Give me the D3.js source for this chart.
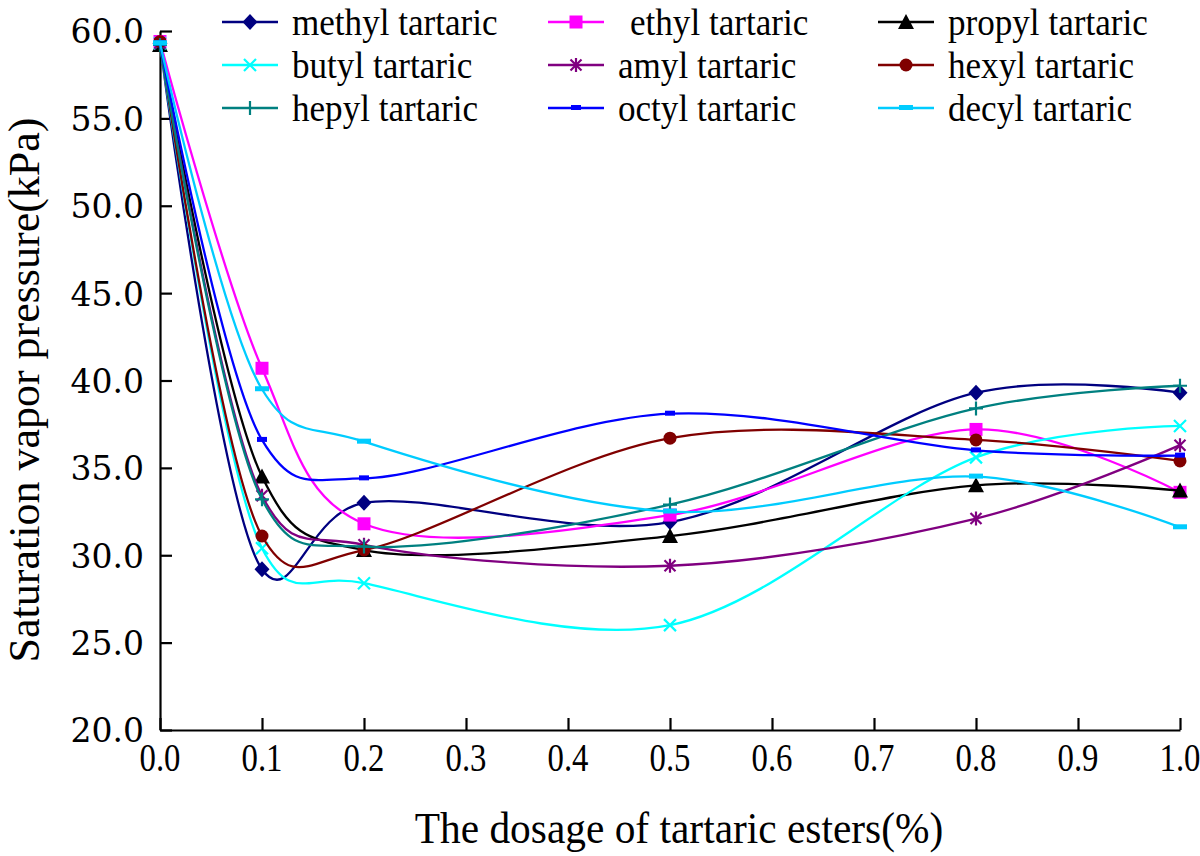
<!DOCTYPE html>
<html>
<head>
<meta charset="utf-8">
<script src="https://cdn.jsdelivr.net/npm/d3@7"></script>
<style>
  html, body { margin: 0; padding: 0; background: #fff; }
  svg { display: block; }
</style>
</head>
<body>
<svg id="chart" width="1200" height="856"></svg>
<script>
// ---- data ----
const dosage = [0, 0.1, 0.2, 0.5, 0.8, 1.0];
const seriesNames = ["methyl tartaric", " ethyl tartaric", "propyl tartaric",
                     "butyl tartaric", "amyl tartaric", "hexyl tartaric",
                     "hepyl tartaric", "octyl tartaric", "decyl tartaric"];
const methyl = [59.3, 29.2, 33.0, 31.9, 39.3, 39.3];
const ethyl  = [59.4, 40.7, 31.8, 32.3, 37.2, 33.6];
const propyl = [59.2, 34.5, 30.3, 31.1, 34.0, 33.7];
const butyl  = [59.3, 30.4, 28.4, 26.0, 35.6, 37.4];
const amyl   = [59.3, 33.4, 30.6, 29.4, 32.1, 36.3];
const hexyl  = [59.4, 31.1, 30.3, 36.7, 36.6, 35.4];
const hepyl  = [59.2, 33.2, 30.5, 32.9, 38.4, 39.7];
const octyl  = [59.3, 36.6, 34.4, 38.1, 36.0, 35.7];
const decyl  = [59.3, 39.5, 36.5, 32.5, 34.5, 31.6];
const seriesValues = [methyl, ethyl, propyl, butyl, amyl, hexyl, hepyl, octyl, decyl];
const xTicks = [0, 0.1, 0.2, 0.3, 0.4, 0.5, 0.6, 0.7, 0.8, 0.9, 1.0];
const yTicks = [20, 25, 30, 35, 40, 45, 50, 55, 60];
const xTitle = "The dosage of tartaric esters(%)";
const yTitle = "Saturation vapor pressure(kPa)";

// ---- styles ----
const colors  = ["#000080", "#FF00FF", "#000000", "#00FFFF", "#800080", "#800000", "#008080", "#0000FF", "#00CCFF"];
const markers = ["diamond", "square", "triangle", "x", "star", "circle", "plus", "dashS", "dashL"];
const SERIF = "'Liberation Serif', 'Times New Roman', Times, serif";

const svg = d3.select("#chart");
const x = d3.scaleLinear().domain([0, 1]).range([160, 1180]);
const y = d3.scaleLinear().domain([20, 60]).range([730, 31]);

// axes
const gx = svg.append("g").attr("transform", "translate(0,730)")
  .call(d3.axisBottom(x).tickValues(xTicks).tickSizeInner(-12).tickSizeOuter(0).tickFormat(d3.format(".1f")));
const gy = svg.append("g").attr("transform", "translate(160,0)")
  .call(d3.axisLeft(y).tickValues(yTicks).tickSizeInner(-12).tickSizeOuter(0).tickFormat(d3.format(".1f")));
[gx, gy].forEach(g => {
  g.select(".domain").attr("stroke", "#000").attr("stroke-width", 2.2);
  g.selectAll(".tick line").attr("stroke", "#000").attr("stroke-width", 2.2);
});
gx.selectAll(".tick text").remove();
gy.selectAll(".tick text")
  .attr("x", -16).attr("dy", "0.36em")
  .attr("font-family", "'DejaVu Serif', serif").attr("font-size", 33).attr("fill", "#000");

// x tick labels (condensed serif)
xTicks.forEach(t => {
  svg.append("g").attr("transform", `translate(${x(t)},771) scale(0.82,1)`)
    .append("text").attr("text-anchor", "middle")
    .attr("font-family", SERIF).attr("font-size", 40).attr("fill", "#000")
    .text(d3.format(".1f")(t));
});

// titles
svg.append("g").attr("transform", "translate(679,843) scale(0.92,1)")
  .append("text").attr("text-anchor", "middle")
  .attr("font-family", SERIF).attr("font-size", 45).attr("fill", "#000").text(xTitle);
svg.append("g").attr("transform", "translate(39,390) rotate(-90)")
  .append("text").attr("text-anchor", "middle")
  .attr("font-family", SERIF).attr("font-size", 44).attr("fill", "#000").text(yTitle);

// marker drawing
function drawMarker(g, type, cx, cy, color) {
  switch (type) {
    case "diamond":
      g.append("path").attr("d", `M${cx},${cy-8}L${cx+7.5},${cy}L${cx},${cy+8}L${cx-7.5},${cy}Z`).attr("fill", color); break;
    case "square":
      g.append("rect").attr("x", cx-6.5).attr("y", cy-6.5).attr("width", 13).attr("height", 13).attr("fill", color); break;
    case "triangle":
      g.append("path").attr("d", `M${cx},${cy-8}L${cx+8},${cy+7}L${cx-8},${cy+7}Z`).attr("fill", color); break;
    case "circle":
      g.append("circle").attr("cx", cx).attr("cy", cy).attr("r", 6.5).attr("fill", color); break;
    case "x":
      g.append("path").attr("d", `M${cx-6},${cy-6}L${cx+6},${cy+6}M${cx-6},${cy+6}L${cx+6},${cy-6}`)
        .attr("stroke", color).attr("stroke-width", 2.2); break;
    case "star":
      g.append("path").attr("d", `M${cx-5.5},${cy-5.5}L${cx+5.5},${cy+5.5}M${cx-5.5},${cy+5.5}L${cx+5.5},${cy-5.5}M${cx},${cy-7}L${cx},${cy+7}`)
        .attr("stroke", color).attr("stroke-width", 2.2); break;
    case "plus":
      g.append("path").attr("d", `M${cx-7},${cy}L${cx+7},${cy}M${cx},${cy-7}L${cx},${cy+7}`)
        .attr("stroke", color).attr("stroke-width", 2.2); break;
    case "dashS":
      g.append("rect").attr("x", cx-5).attr("y", cy-3).attr("width", 10).attr("height", 5).attr("fill", color); break;
    case "dashL":
      g.append("rect").attr("x", cx-7).attr("y", cy-3).attr("width", 14).attr("height", 5).attr("fill", color); break;
  }
}

// series
const line = d3.line().x(d => x(d[0])).y(d => y(d[1])).curve(d3.curveCatmullRom.alpha(0.2));
seriesValues.forEach((vals, i) => {
  const pts = dosage.map((d, j) => [d, vals[j]]);
  const g = svg.append("g");
  g.append("path").attr("d", line(pts)).attr("fill", "none")
    .attr("stroke", colors[i]).attr("stroke-width", 2.3);
  pts.forEach(p => drawMarker(g, markers[i], x(p[0]), y(p[1]), colors[i]));
});

// legend
const legCols = [222, 548, 878];
const legRows = [22, 65, 108];
seriesNames.forEach((name, i) => {
  const cx0 = legCols[i % 3], cy0 = legRows[Math.floor(i / 3)];
  const g = svg.append("g");
  g.append("line").attr("x1", cx0).attr("x2", cx0 + 56).attr("y1", cy0).attr("y2", cy0)
    .attr("stroke", colors[i]).attr("stroke-width", 2.5);
  drawMarker(g, markers[i], cx0 + 28, cy0, colors[i]);
  const tx = cx0 + 70 + (name.startsWith(" ") ? 12 : 0);
  svg.append("g").attr("transform", `translate(${tx},${cy0 + 13}) scale(0.9,1)`)
    .append("text").attr("font-family", SERIF).attr("font-size", 39).attr("fill", "#000")
    .text(name.trim());
});
</script>
</body>
</html>
